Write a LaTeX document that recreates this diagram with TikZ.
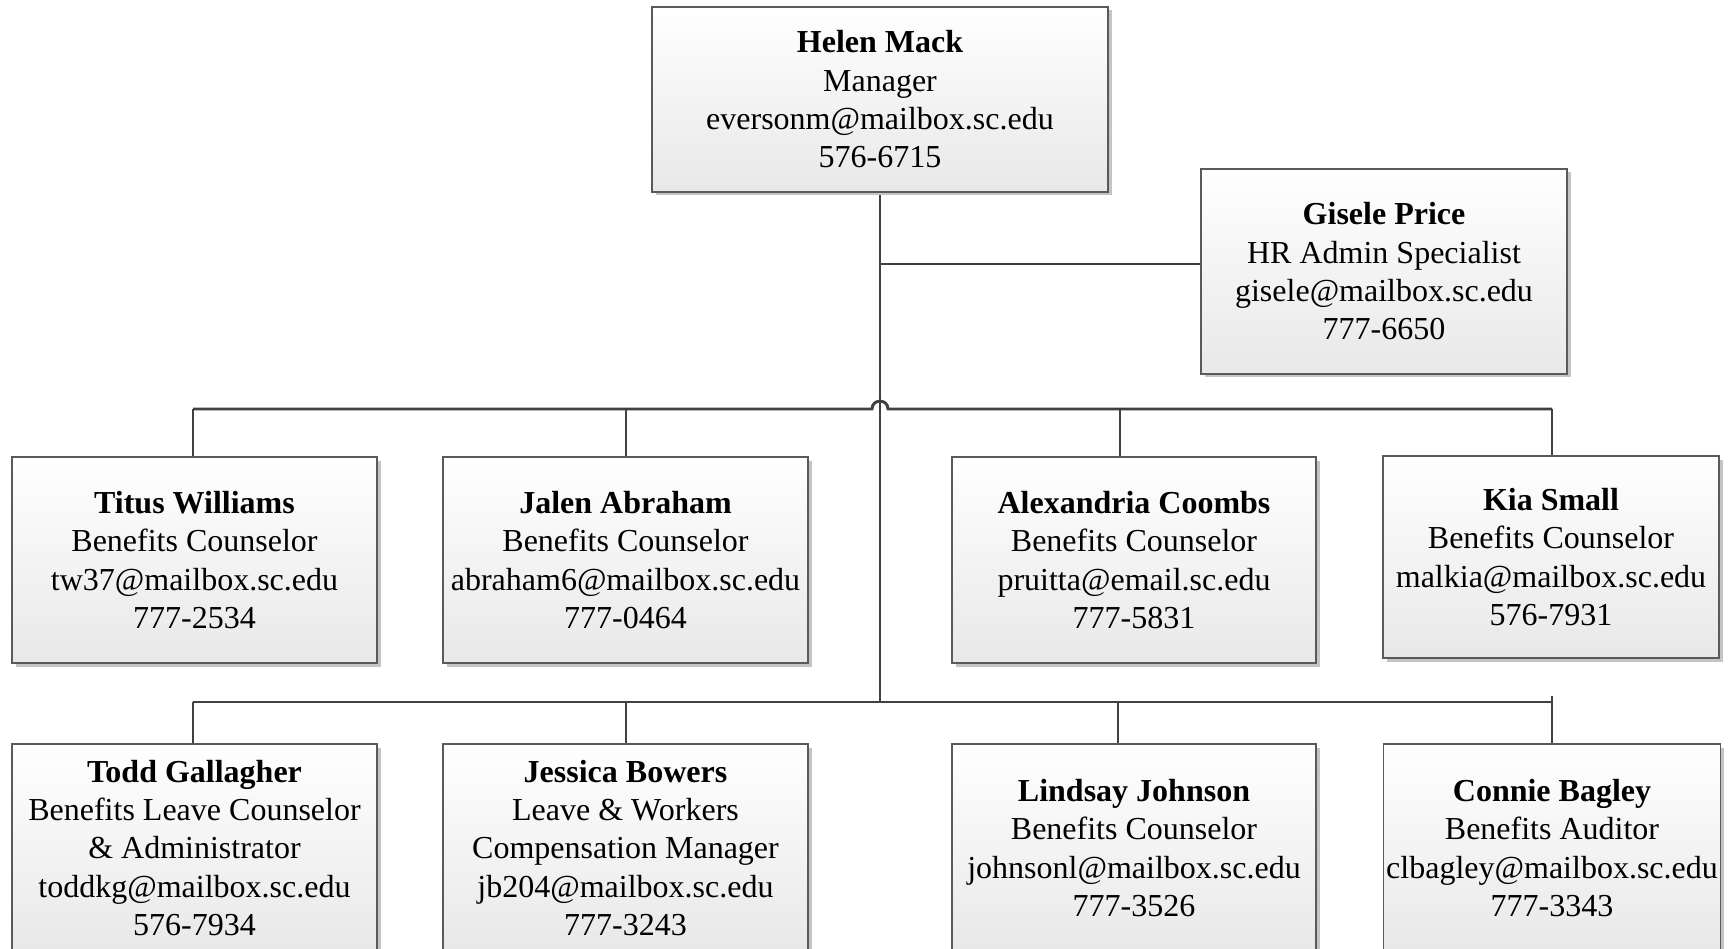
\documentclass[tikz,border=0pt]{standalone}
\usepackage{fontspec}
\setmainfont{Liberation Serif}
\usetikzlibrary{shadows,calc}
\definecolor{boxline}{HTML}{5A5A5A}
\definecolor{boxbot}{HTML}{E8E8E8}
\definecolor{conn}{HTML}{404040}
\definecolor{shade}{HTML}{C4C4C4}
\tikzset{
  person/.style 2 args={rectangle, draw=boxline, line width=1.4pt,
    top color=white, bottom color=boxbot,
    minimum width=#1pt, minimum height=#2pt, inner sep=0pt, align=center,
    font=\fontsize{32}{38.3}\selectfont,
    general shadow={fill=shade, shadow xshift=3.5pt, shadow yshift=-3.5pt}},
  link/.style={draw=conn, line width=2.9pt},
}
\begin{document}
\begin{tikzpicture}[x=1pt,y=-1pt]
\clip (0,0) rectangle (1729,949);
\fill[white] (0,0) rectangle (1729,949);

% junction coordinates
\coordinate (top)  at (880,409);
\coordinate (bot)  at (880,702);
\coordinate (gj)   at (880,264);
\coordinate (tL)   at (193,409);
\coordinate (tJ)   at (626,409);
\coordinate (hopL) at (872,409);
\coordinate (hopR) at (888,409);
\coordinate (tA)   at (1120,409);
\coordinate (tK)   at (1552,409);
\coordinate (bL)   at (193,702);
\coordinate (bJ)   at (626,702);
\coordinate (bA)   at (1118,702);
\coordinate (bK)   at (1552,702);
\coordinate (bKt)  at (1552,696);

% connectors (drawn first, boxes on top)
\path[link] (tL) -- (hopL) .. controls (872,398.5) and (888,398.5) .. (hopR) -- (tK);
\path[link] (bL) -- (bK);
\path[link] (880,192) -- (bot);
\path[link] (gj) -- (1201,264);
\path[link] (tL) -- (193,457);
\path[link] (tJ) -- (626,457);
\path[link] (tA) -- (1120,457);
\path[link] (tK) -- (1552,456);
\path[link] (bL) -- (193,744);
\path[link] (bJ) -- (626,744);
\path[link] (bA) -- (1118,744);
\path[link] (bKt) -- (1552,744);

% boxes
\node[person={456}{185}] (helen) at (880,99.5)
  {\textbf{Helen Mack}\\Manager\\eversonm@mailbox.sc.edu\\576-6715};
\node[person={366}{205}] (gisele) at (1384,271.5)
  {\textbf{Gisele Price}\\HR Admin Specialist\\gisele@mailbox.sc.edu\\777-6650};

\node[person={365}{206}] (titus) at (194.5,560)
  {\textbf{Titus Williams}\\Benefits Counselor\\tw37@mailbox.sc.edu\\777-2534};
\node[person={365}{206}] (jalen) at (625.5,560)
  {\textbf{Jalen Abraham}\\Benefits Counselor\\abraham6@mailbox.sc.edu\\777-0464};
\node[person={364}{206}] (alex) at (1134,560)
  {\textbf{Alexandria Coombs}\\Benefits Counselor\\pruitta@email.sc.edu\\777-5831};
\node[person={336}{202}] (kia) at (1551,557)
  {\textbf{Kia Small}\\Benefits Counselor\\malkia@mailbox.sc.edu\\576-7931};

\node[person={365}{208}] (todd) at (194.5,848)
  {\textbf{Todd Gallagher}\\Benefits Leave Counselor\\\& Administrator\\toddkg@mailbox.sc.edu\\576-7934};
\node[person={365}{208}] (jessica) at (625.5,848)
  {\textbf{Jessica Bowers}\\Leave \& Workers\\Compensation Manager\\jb204@mailbox.sc.edu\\777-3243};
\node[person={364}{208}] (lindsay) at (1134,848)
  {\textbf{Lindsay Johnson}\\Benefits Counselor\\johnsonl@mailbox.sc.edu\\777-3526};
\node[person={337}{208}] (connie) at (1552,848)
  {\textbf{Connie Bagley}\\Benefits Auditor\\clbagley@mailbox.sc.edu\\777-3343};
\end{tikzpicture}
\end{document}
